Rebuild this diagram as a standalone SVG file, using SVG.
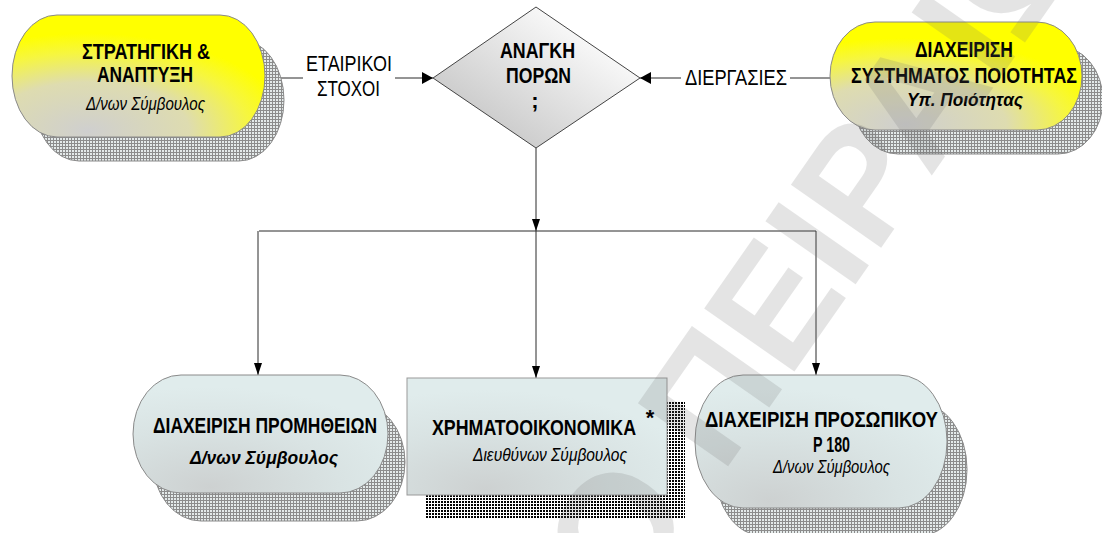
<svg xmlns="http://www.w3.org/2000/svg" width="1102" height="533" viewBox="0 0 1102 533">
  <style>
    text { font-family: "Liberation Sans", Arial, sans-serif; fill: #000; }
    .b { font-weight: bold; font-size: 22px; }
    .r { font-size: 22px; }
    .i { font-style: italic; font-size: 18px; }
    .bi { font-style: italic; font-weight: bold; font-size: 19px; }
    .cap { stroke: #8a8a8a; stroke-width: 1; }
    .wire { fill: none; stroke: #2a2a2a; stroke-width: 1; }
    .wm { font-size: 160px; font-weight: bold; fill: #707070; }
  </style>
  <defs>
    <radialGradient id="gYellow" cx="0.3" cy="0.95" r="0.8">
      <stop offset="0" stop-color="#cfcfcf"/>
      <stop offset="0.5" stop-color="#dedcb0"/>
      <stop offset="0.8" stop-color="#f6f640"/>
      <stop offset="1" stop-color="#ffff00"/>
    </radialGradient>
    <radialGradient id="gBlue" cx="0.3" cy="0.95" r="0.85">
      <stop offset="0" stop-color="#cdd1d1"/>
      <stop offset="0.6" stop-color="#d9e3e3"/>
      <stop offset="1" stop-color="#e0ecec"/>
    </radialGradient>
    <linearGradient id="gDiamond" x1="0.15" y1="0.85" x2="0.85" y2="0.15">
      <stop offset="0" stop-color="#c6c6c6"/>
      <stop offset="1" stop-color="#ffffff"/>
    </linearGradient>
    <pattern id="pGrey" width="3" height="3" patternUnits="userSpaceOnUse">
      <rect width="3" height="3" fill="#8c8c8c"/>
      <rect width="2" height="2" fill="#e4eaea"/>
    </pattern>
    <pattern id="pBlack" width="3" height="3" patternUnits="userSpaceOnUse">
      <rect width="3" height="3" fill="#ffffff"/>
      <rect width="2" height="2" fill="#000000"/>
    </pattern>
    <marker id="arrowH" viewBox="0 0 11 12" refX="11" refY="6" markerWidth="11" markerHeight="12" markerUnits="userSpaceOnUse" orient="auto">
      <path d="M0,0 L11,6 L0,12 z" fill="#000"/>
    </marker>
    <marker id="arrowV" viewBox="0 0 12 8" refX="12" refY="4" markerWidth="12" markerHeight="8" markerUnits="userSpaceOnUse" orient="auto">
      <path d="M0,0 L12,4 L0,8 z" fill="#000"/>
    </marker>
  </defs>

  <!-- connectors -->
  <g id="connectors">
    <path class="wire" d="M265 78 H303"/>
    <path class="wire" d="M395 78 H433" marker-end="url(#arrowH)"/>
    <path class="wire" d="M830 78 H790"/>
    <path class="wire" d="M681 78 H640" marker-end="url(#arrowH)"/>
    <path class="wire" d="M536 148 V231" marker-end="url(#arrowV)"/>
    <path class="wire" d="M259 231 H816"/>
    <path class="wire" d="M258 231 V375" marker-end="url(#arrowV)"/>
    <path class="wire" d="M536 231 V378" marker-end="url(#arrowV)"/>
    <path class="wire" d="M816 231 V375" marker-end="url(#arrowV)"/>
    <text class="r" x="349" y="71" text-anchor="middle" textLength="86" lengthAdjust="spacingAndGlyphs">ΕΤΑΙΡΙΚΟΙ</text>
    <text class="r" x="348.5" y="96" text-anchor="middle" textLength="63" lengthAdjust="spacingAndGlyphs">ΣΤΟΧΟΙ</text>
    <text class="r" x="736" y="85" text-anchor="middle" textLength="102" lengthAdjust="spacingAndGlyphs">ΔΙΕΡΓΑΣΙΕΣ</text>
  </g>

  <!-- strategy & development -->
  <g id="node-strategy">
    <rect x="34" y="39" width="250" height="122" rx="45" ry="61" fill="url(#pGrey)" class="cap"/>
    <rect x="12" y="15" width="253" height="122" rx="45" ry="61" fill="url(#gYellow)" class="cap"/>
    <text class="b" x="146" y="59" text-anchor="middle" textLength="128" lengthAdjust="spacingAndGlyphs">ΣΤΡΑΤΗΓΙΚΗ &amp;</text>
    <text class="b" x="145" y="82" text-anchor="middle" textLength="96" lengthAdjust="spacingAndGlyphs">ΑΝΑΠΤΥΞΗ</text>
    <text class="i" x="145.5" y="110" text-anchor="middle" textLength="119" lengthAdjust="spacingAndGlyphs">Δ/νων Σύμβουλος</text>
  </g>

  <!-- decision -->
  <g id="node-decision">
    <polygon points="536,7 640,78 536,148 433,78" fill="url(#gDiamond)" stroke="#444" stroke-width="1"/>
    <text class="b" x="537.5" y="58" text-anchor="middle" textLength="75" lengthAdjust="spacingAndGlyphs">ΑΝΑΓΚΗ</text>
    <text class="b" x="538.5" y="83" text-anchor="middle" textLength="65" lengthAdjust="spacingAndGlyphs">ΠΟΡΩΝ</text>
    <text class="b" x="535" y="108" text-anchor="middle">;</text>
  </g>

  <!-- quality system -->
  <g id="node-quality">
    <rect x="853" y="46" width="250" height="108" rx="45" ry="54" fill="url(#pGrey)" class="cap"/>
    <rect x="830" y="22" width="252" height="108" rx="45" ry="54" fill="url(#gYellow)" class="cap"/>
    <text class="b" x="964" y="57" text-anchor="middle" textLength="98" lengthAdjust="spacingAndGlyphs">ΔΙΑΧΕΙΡΙΣΗ</text>
    <text class="b" x="964" y="83" text-anchor="middle" textLength="226" lengthAdjust="spacingAndGlyphs">ΣΥΣΤΗΜΑΤΟΣ ΠΟΙΟΤΗΤΑΣ</text>
    <text class="bi" x="965" y="106" text-anchor="middle" textLength="116" lengthAdjust="spacingAndGlyphs">Υπ. Ποιότητας</text>
  </g>

  <!-- procurement -->
  <g id="node-procurement">
    <rect x="153" y="403" width="252" height="118" rx="48" ry="59" fill="url(#pGrey)" class="cap"/>
    <rect x="133" y="375" width="255" height="118" rx="48" ry="59" fill="url(#gBlue)" class="cap"/>
    <text class="b" x="265" y="433" text-anchor="middle" textLength="224" lengthAdjust="spacingAndGlyphs">ΔΙΑΧΕΙΡΙΣΗ ΠΡΟΜΗΘΕΙΩΝ</text>
    <text class="bi" x="264" y="464" text-anchor="middle" textLength="148" lengthAdjust="spacingAndGlyphs">Δ/νων Σύμβουλος</text>
  </g>

  <!-- finance -->
  <g id="node-finance">
    <rect x="425" y="402" width="260" height="116" fill="url(#pBlack)"/>
    <rect x="407" y="378" width="260" height="117" fill="url(#gBlue)" stroke="#999" stroke-width="1"/>
    <text class="b" x="534" y="435" text-anchor="middle" textLength="204" lengthAdjust="spacingAndGlyphs">ΧΡΗΜΑΤΟΟΙΚΟΝΟΜΙΚΑ</text>
    <text class="b" x="650" y="425" text-anchor="middle" font-size="17">*</text>
    <text class="i" x="550" y="461" text-anchor="middle" font-size="17" textLength="154" lengthAdjust="spacingAndGlyphs">Διευθύνων Σύμβουλος</text>
  </g>

  <!-- personnel -->
  <g id="node-personnel">
    <rect x="715" y="403" width="252" height="133" rx="48" ry="66" fill="url(#pGrey)" class="cap"/>
    <rect x="695" y="375" width="252" height="133" rx="48" ry="66" fill="url(#gBlue)" class="cap"/>
    <text class="b" x="821.5" y="427" text-anchor="middle" textLength="233" lengthAdjust="spacingAndGlyphs">ΔΙΑΧΕΙΡΙΣΗ ΠΡΟΣΩΠΙΚΟΥ</text>
    <text class="b" x="831.5" y="452" text-anchor="middle" textLength="37" lengthAdjust="spacingAndGlyphs">P 180</text>
    <text class="i" x="831.5" y="473" text-anchor="middle" textLength="117" lengthAdjust="spacingAndGlyphs">Δ/νων Σύμβουλος</text>
  </g>

  <!-- watermark -->
  <g id="watermark" opacity="0.18" transform="translate(722,475) rotate(-55)">
    <text class="wm" x="-44" y="0" text-anchor="end">ΠΑΝΕΠΙΣΤΗΜΙΟ</text>
    <text class="wm" x="0" y="0">ΠΕΙΡΑΙΩΣ</text>
  </g>
</svg>
